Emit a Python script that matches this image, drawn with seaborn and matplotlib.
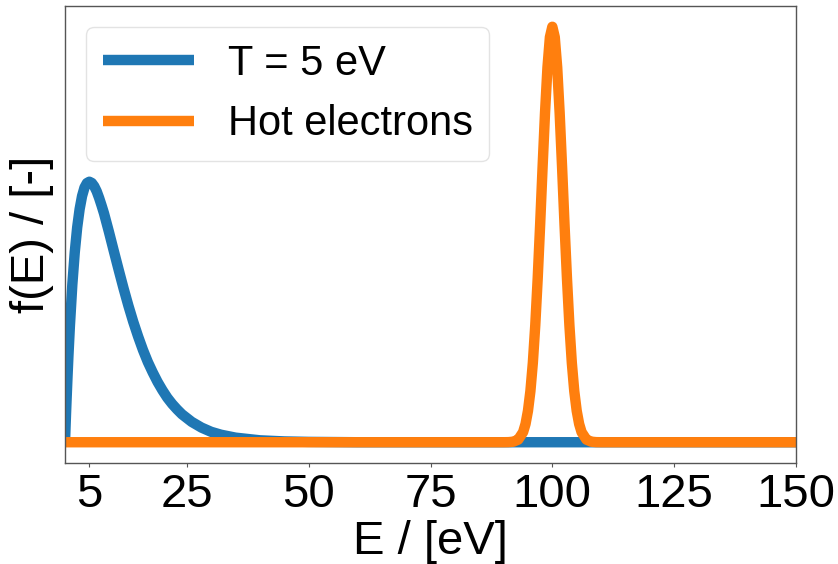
import matplotlib
matplotlib.use("Agg")
import matplotlib.pyplot as plt
import seaborn as sns
import pandas as pd

# Values
energy_thermal = [0.0, 0.1, 0.2, 0.3, 0.5, 0.7, 1, 1.5, 2, 2.5, 3, 3.5, 4, 4.5, 5, 5.5, 6,
                  6.5, 7, 7.5, 8, 9, 10, 11, 12, 13, 14, 15, 16, 17, 18, 19, 20, 21, 22,
                  23, 24, 26, 28, 30, 32, 35, 40, 45, 50, 60, 150]
f_thermal = [0.0, 0.0334, 0.066, 0.0963, 0.154, 0.2074, 0.279, 0.379, 0.457, 0.517, 0.561,
             0.5925, 0.613, 0.6237, 0.627, 0.624, 0.616, 0.604, 0.588, 0.570, 0.551, 0.507,
             0.461, 0.4155, 0.371, 0.329, 0.290, 0.2546, 0.222, 0.193, 0.168, 0.145, 0.125,
             0.107, 0.092, 0.079, 0.0673, 0.049, 0.0353, 0.025, 0.0181, 0.011, 0.0046,
             0.0019, 0.0008, 0.0, 0.0]

energy_hot = [0.0, 90, 91, 92, 93, 94, 94.5, 95, 95.5, 96, 96.5, 97, 97.5, 98, 98.5, 99,
              99.5, 100, 100.5, 101, 101.5, 102, 102.5, 103, 103.5, 104, 104.5, 105, 105.5,
              106, 107, 108, 109, 110, 150]
f_hot = [0.0, 0.0, 0.0002, 0.0013, 0.0063, 0.0243, 0.044, 0.0756, 0.123, 0.191, 0.282,
         0.395, 0.524, 0.662, 0.793, 0.902, 0.975, 1.0, 0.975, 0.902, 0.793, 0.662, 0.524,
         0.395, 0.282, 0.191, 0.123, 0.0756, 0.044, 0.0243, 0.0063, 0.0013, 0.0002, 0.0, 0.0]

labels = ["T = 5 eV", "Hot electrons"]
xticks = [5, 25, 50, 75, 100, 125, 150]

sns.set_style("white")
plt.rcParams["font.family"] = ["Liberation Sans", "DejaVu Sans"]
plt.rcParams["text.color"] = "black"
plt.rcParams["axes.labelcolor"] = "black"
plt.rcParams["xtick.color"] = "black"

df = pd.concat([
    pd.DataFrame({"E": energy_thermal, "f": f_thermal, "series": labels[0]}),
    pd.DataFrame({"E": energy_hot, "f": f_hot, "series": labels[1]}),
], ignore_index=True)

fig = plt.figure(figsize=(8.38, 5.64), dpi=100)
ax = fig.add_axes([65 / 838, 101 / 564, 731 / 838, 457 / 564])

sns.lineplot(data=df, x="E", y="f", hue="series", hue_order=labels,
             palette=["#1f77b4", "#ff7f0e"], linewidth=7.5, sort=False,
             estimator=None, ax=ax, legend=False)
for line in ax.get_lines():
    line.set_solid_capstyle("butt")
    line.set_solid_joinstyle("round")

ax.set_xlim(0, 150)
ax.set_ylim(-0.05, 1.05)
ax.set_xticks(xticks)
ax.set_xticklabels([str(t) for t in xticks])
ax.set_yticks([])
ax.tick_params(axis="x", labelsize=34, length=3, width=0.8, color="#555555",
               labelcolor="black", bottom=True, pad=4)
ax.set_xlabel("E / [eV]", fontsize=34, labelpad=2, color="black")
ax.set_ylabel("f(E) / [-]", fontsize=34, labelpad=8, color="black")
for s in ax.spines.values():
    s.set_color("#555555")
    s.set_linewidth(1.0)

leg = ax.legend(ax.get_lines()[:2], labels, loc="upper left", fontsize=30, frameon=True,
                framealpha=0.8, borderaxespad=0.5, handlelength=2.2)
leg.get_frame().set_edgecolor("#dddddd")
for line in leg.get_lines():
    line.set_linewidth(7.5)
    line.set_solid_capstyle("butt")

fig.savefig("out.png", dpi=100)
